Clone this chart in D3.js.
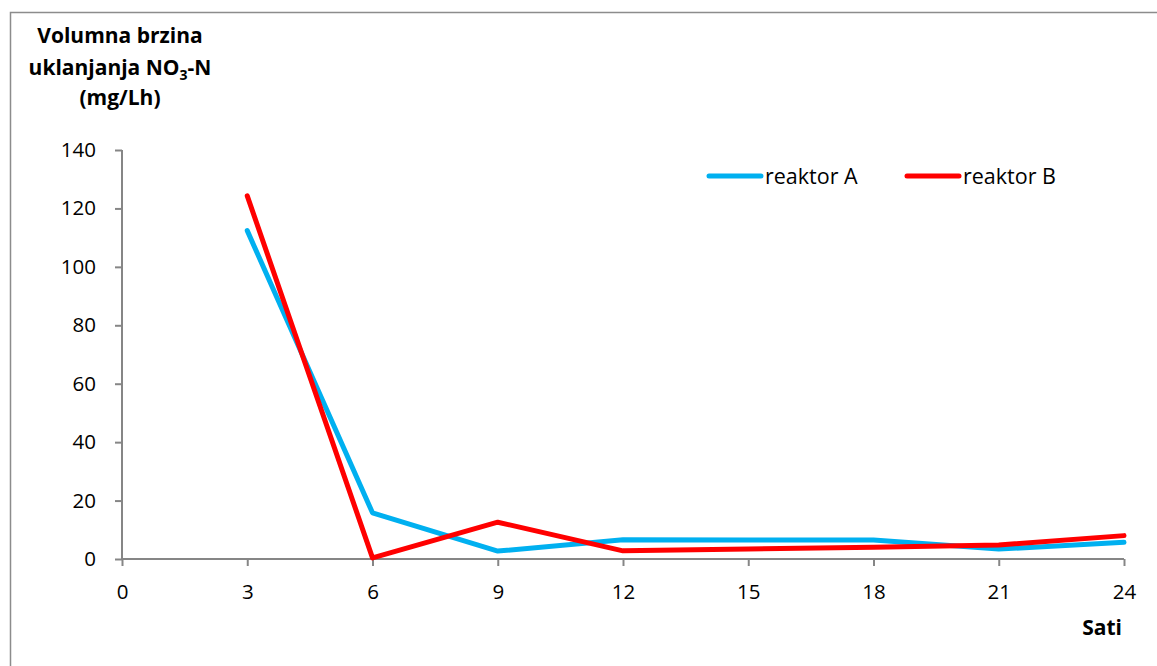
<!DOCTYPE html>
<html><head><meta charset="utf-8">
<script src="https://cdnjs.cloudflare.com/ajax/libs/d3/7.8.5/d3.min.js"></script>
<style>body{margin:0;background:#fff;}svg{display:block;font-family:"Open Sans",Lato,sans-serif;}</style>
</head><body>
<svg id="c" width="1157" height="666"></svg>
<script>
const hours = [3, 6, 9, 12, 15, 18, 21, 24];
const reaktorA = [112.4, 15.8, 2.7, 6.6, 6.5, 6.5, 3.4, 5.7];
const reaktorB = [124.3, 0.4, 12.6, 2.8, 3.4, 4.0, 4.8, 8.0];
const xTicks = [0, 3, 6, 9, 12, 15, 18, 21, 24];
const yTicks = [0, 20, 40, 60, 80, 100, 120, 140];
const seriesNames = ["reaktor A", "reaktor B"];
const colors = ["#00b0f0", "#ff0000"];
const FONT = "'Open Sans', Lato, sans-serif";

const svg = d3.select("#c");
const x = d3.scaleLinear().domain([0, 24]).range([122, 1124]);
const y = d3.scaleLinear().domain([0, 140]).range([559, 150]);

// frame
svg.append("path").attr("d", "M10.5,666 L10.5,12.5 L1157,12.5").attr("fill", "none").attr("stroke", "#8c8c8c").attr("stroke-width", 1.5);

const gy = svg.append("g").attr("transform", "translate(122,0)")
  .call(d3.axisLeft(y).tickValues(yTicks).tickSize(7).tickPadding(19).tickFormat(d3.format("d")));
const gx = svg.append("g").attr("transform", "translate(0,559)")
  .call(d3.axisBottom(x).tickValues(xTicks).tickSize(7).tickPadding(18).tickFormat(d3.format("d")));
[gx, gy].forEach(g => {
  g.select(".domain").attr("stroke", "#868686").attr("stroke-width", 2);
  g.selectAll(".tick line").attr("stroke", "#868686").attr("stroke-width", 2);
  g.selectAll("text").attr("font-size", 20.5).attr("fill", "#000").attr("font-family", FONT);
});
gx.select(".domain").attr("d", "M122,0H1124");
gy.select(".domain").attr("d", "M0,150V559");

const line = d3.line().x((d, i) => x(hours[i])).y(d => y(d));
[reaktorA, reaktorB].forEach((s, k) => {
  svg.append("path").datum(s).attr("d", line).attr("fill", "none")
    .attr("stroke", colors[k]).attr("stroke-width", 5).attr("stroke-linejoin", "round").attr("stroke-linecap", "round");
});

// legend
const lx = [709, 907];
seriesNames.forEach((n, k) => {
  svg.append("line").attr("x1", lx[k]).attr("x2", lx[k] + 52).attr("y1", 176).attr("y2", 176)
    .attr("stroke", colors[k]).attr("stroke-width", 5).attr("stroke-linecap", "round");
  svg.append("text").attr("x", lx[k] + 56).attr("y", 183.5).attr("font-size", 21.5).text(n);
});

// titles
const t = svg.append("text").attr("text-anchor", "middle").attr("font-weight", "bold").attr("font-size", 21);
t.append("tspan").attr("x", 120).attr("y", 43).text("Volumna brzina");
const t2 = t.append("tspan").attr("x", 120).attr("y", 75);
t2.text("uklanjanja NO");
t2.append("tspan").attr("font-size", 14).attr("dy", 5).text("3");
t2.append("tspan").attr("dy", -5).text("-N");
t.append("tspan").attr("x", 120).attr("y", 105).text("(mg/Lh)");

svg.append("text").attr("x", 1122).attr("y", 635).attr("text-anchor", "end").attr("font-weight", "bold").attr("font-size", 21).text("Sati");
</script>
</body></html>
